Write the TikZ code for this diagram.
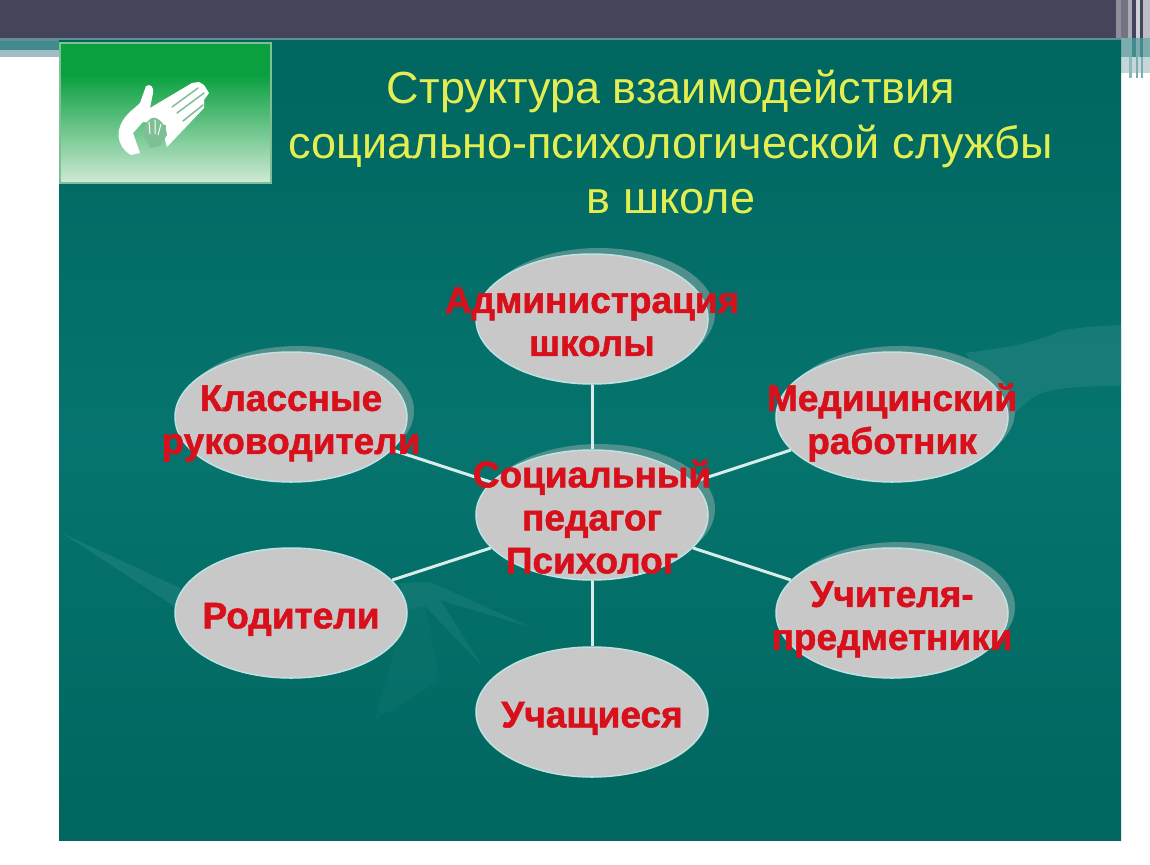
\documentclass[tikz,border=0pt]{standalone}
\usepackage{fontspec}
\setmainfont{Liberation Sans}[BoldFeatures={FakeBold=1.5}]
\usetikzlibrary{shapes.geometric}
\pgfdeclarelayer{under}
\pgfsetlayers{under,main}
\definecolor{barc}{HTML}{44445A}
\definecolor{tealb}{HTML}{00665F}
\definecolor{tealm}{HTML}{06746E}
\definecolor{ellc}{HTML}{C8C8C8}
\definecolor{ringc}{HTML}{BFE3E3}
\definecolor{shadc}{HTML}{4F8F8C}
\definecolor{redt}{HTML}{D8101C}
\definecolor{yelt}{HTML}{E4EE50}
\definecolor{linec}{HTML}{D8ECEA}
\definecolor{greent}{HTML}{0AA040}
\definecolor{greenb}{HTML}{CFEAD6}
\definecolor{swoosh}{HTML}{2E8A86}
\definecolor{stripea}{HTML}{5F8E94}
\definecolor{stripeb}{HTML}{428A8C}
\definecolor{stripec}{HTML}{A0BCC4}
\definecolor{gapc}{HTML}{7FBF95}
\newcommand{\bub}[1]{\smash{\raisebox{-13pt}{\makebox[0pt]{\begin{tabular}{@{}c@{}}#1\end{tabular}}}}}
\tikzset{
  bubble/.style={ellipse,fill=ellc,draw=ringc,line width=1.5pt,inner sep=0pt,
    minimum width=232pt,minimum height=130pt,
    font=\fontsize{37}{43}\selectfont\bfseries,text=redt},
  shad/.style={ellipse,fill=shadc,inner sep=0pt,minimum width=232pt,minimum height=130pt},
  link/.style={draw=linec,line width=3pt},
  titlet/.style={font=\fontsize{45}{55}\selectfont,text=yelt,align=center,inner sep=0pt}
}
\begin{document}
\begin{tikzpicture}[x=1pt,y=-1pt]
\useasboundingbox (0,0) rectangle (1150,864);
\begin{pgfonlayer}{under}
\fill[white] (0,0) rectangle (1150,864);
% top bar and left stripes
\fill[barc] (0,0) rectangle (1116,38);
\fill[stripea] (0,38) rectangle (1121,41);
\fill[stripeb] (0,41) rectangle (59,50);
\fill[stripec] (0,50) rectangle (59,57);
% right stripes
\fill[barc!60!white] (1116,0) rectangle (1121,38);
\fill[barc!75!white] (1121,0) rectangle (1128,38);
\fill[barc!45!white] (1128,0) rectangle (1132,38);
\fill[barc] (1132,0) rectangle (1136,38);
\fill[barc!25!white] (1136,0) rectangle (1140,38);
\fill[barc] (1140,0) rectangle (1143,38);
\fill[barc!35!white] (1143,0) rectangle (1150,38);
\fill[stripeb!70!white] (1121,38) rectangle (1150,57);
\fill[stripeb] (1132,38) rectangle (1136,57);
\fill[stripeb] (1140,38) rectangle (1143,57);
\fill[stripec!60!white] (1121,57) rectangle (1150,73);
\fill[stripeb!60!white] (1129,57) rectangle (1132,78);
\fill[stripeb!70!white] (1136,57) rectangle (1138,78);
\fill[stripeb!70!white] (1141,57) rectangle (1143,78);
% panel
\shade[top color=tealb,bottom color=tealb,middle color=tealm] (59,41) rectangle (1121,840);
% background sweeps
\fill[swoosh,opacity=.45] (965,353) .. controls (1000,348) and (1030,345) .. (1060,331)
  .. controls (1080,327) and (1100,326) .. (1121,325) -- (1121,386)
  .. controls (1080,386) and (1050,388) .. (1035,396) .. controls (1025,402) and (1020,410) .. (1012,415) -- cycle;
\fill[swoosh,opacity=.4] (62,533) -- (180,588) -- (180,610) -- cycle;
\fill[swoosh,opacity=.3] (400,583) -- (430,582) -- (533,628) -- (440,600) -- (483,667) -- (425,606) -- (405,610) -- cycle;
\fill[swoosh,opacity=.12] (405,610) -- (425,606) -- (440,680) -- (375,720) -- cycle;
% shadows
\node[shad] (sa) at (599,313) {};
\node[shad] (sk) at (298,411) {};
\node[shad] (sc) at (599,509) {};
\node[shad] (sm) at (899,411) {};
\node[shad] (st) at (899,607) {};
\end{pgfonlayer}
% green tile
\fill[greent] (60,43) rectangle (271,75);
\shade[top color=greent,bottom color=greenb] (60,75) rectangle (271,183);
\draw[gapc,line width=1.5pt] (60,43) rectangle (271,183);
% hand
\fill[white,line join=round] (146,86) .. controls (151,83) and (154,88) .. (153,93)
  -- (150,108) -- (192,83) -- (199,82) -- (204,85) -- (209,93) -- (204,100) -- (204,108)
  -- (167,147) -- (165,140) -- (166,125) -- (143,122) -- (133,133) -- (140,153)
  -- (131,155) .. controls (122,150) and (117,140) .. (119,130)
  .. controls (122,116) and (133,110) .. (140,103) -- cycle;
\fill[gapc] (143,134) .. controls (143,128) and (145,122) .. (152,118)
  .. controls (158,116) and (166,125) .. (167,135) -- (160,146) -- (150,148) -- cycle;
\draw[white,line width=1pt] (149,122) -- (150,134) (155,120) -- (155,134) (161,124) -- (158,135);
\draw[gapc,line width=1.5pt,line cap=round] (172,107) -- (198,88) (177,113) -- (204,93) (183,121) -- (203,105);
% title
\node[titlet] (title) at (671,142) {Структура взаимодействия\\социально-психологической службы\\в школе};
% bubbles
\node[bubble] (admin) at (592,319) {\bub{Администрация\\школы}};
\node[bubble] (klass) at (291,417) {\bub{Классные\\руководители}};
\node[bubble] (med) at (892,417) {\bub{Медицинский\\работник}};
\node[bubble] (soc) at (592,515) {\bub{Социальный\\педагог\\Психолог}};
\node[bubble] (rod) at (291,613) {\bub{Родители}};
\node[bubble] (uch) at (892,613) {\bub{Учителя-\\предметники}};
\node[bubble] (stud) at (592,712) {\bub{Учащиеся}};
\begin{pgfonlayer}{under}
\draw[link] (admin) -- (soc);
\draw[link] (klass) -- (soc);
\draw[link] (med) -- (soc);
\draw[link] (rod) -- (soc);
\draw[link] (uch) -- (soc);
\draw[link] (stud) -- (soc);
\end{pgfonlayer}
\end{tikzpicture}
\end{document}
